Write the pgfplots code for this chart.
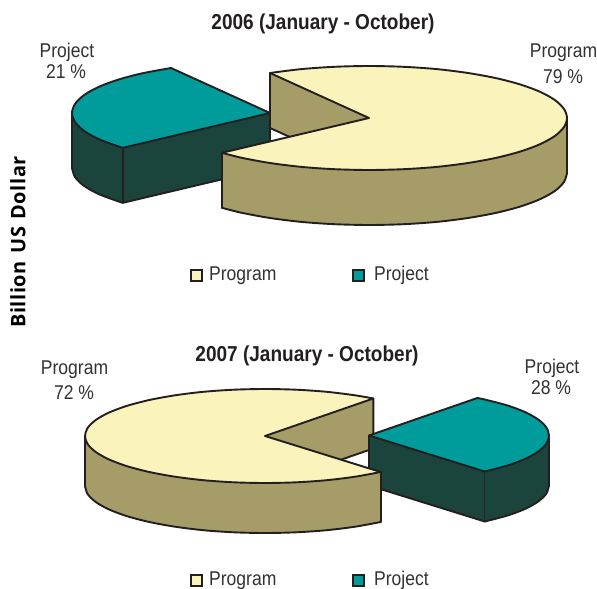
\documentclass[border=0pt]{standalone}
\usepackage{fontspec}
\usepackage{pgfplots}
\pgfplotsset{compat=1.18}
\setmainfont{Liberation Sans}[FakeStretch=0.88]
\newfontfamily\ylabfont{Open Sans}[LetterSpace=3,WordSpace=1.3]
\definecolor{cream}{HTML}{FAF3BC}
\definecolor{olive}{HTML}{A69C67}
\definecolor{teal2}{HTML}{009C9C}
\definecolor{dark}{HTML}{1B443C}
\definecolor{edge}{HTML}{231F20}
\definecolor{txt}{HTML}{333132}
\pgfplotsset{
  shape/.style={fill=#1,draw=none},
  edgeline/.style={draw=edge,line width=1.9bp,line cap=round,line join=round},
  arc/.style={edgeline,smooth},
}
\tikzset{
  lab/.style={font=\fontsize{20}{22}\selectfont,text=txt,inner sep=0pt,anchor=center},
  ttl/.style={font=\fontsize{21.7}{23}\selectfont\bfseries,text=edge,inner sep=0pt,anchor=center},
}
\begin{document}
\begin{tikzpicture}
\useasboundingbox (0,0) rectangle (597bp,589bp);
\begin{axis}[
  at={(0,0)},anchor=south west,
  width=597bp,height=589bp,scale only axis,
  xmin=0,xmax=597,ymin=0,ymax=589,y dir=reverse,
  hide axis,clip=false]

% ---- 2006 project slice
\addplot[shape=dark] coordinates {(72,113) (75,122) (83.9,130.8) (98.5,139) (118.3,146.4) (122.9,147.8)
  (122.9,202.8) (118.3,201.4) (98.5,194) (83.9,185.8) (75,177) (72,168)};
\addplot[shape=dark] coordinates {(270,113) (122.9,147.8) (122.9,202.8) (270,168)};
\addplot[arc] coordinates {(72,168) (75,177) (83.9,185.8) (98.5,194) (118.3,201.4) (122.9,202.8)};
\addplot[edgeline] coordinates {(72,113) (72,168)};
\addplot[edgeline] coordinates {(122.9,147.8) (122.9,202.8) (270,168) (270,113)};
\addplot[shape=teal2] coordinates {(270,113) (171,68) (142.7,73.2) (118.3,79.6) (98.5,87) (83.9,95.2) (75,104)
  (72,113) (75,122) (83.9,130.8) (98.5,139) (118.3,146.4) (122.9,147.8)};
\addplot[arc] coordinates {(171,68) (142.7,73.2) (118.3,79.6) (98.5,87) (83.9,95.2) (75,104)
  (72,113) (75,122) (83.9,130.8) (98.5,139) (118.3,146.4) (122.9,147.8)};
\addplot[edgeline] coordinates {(122.9,147.8) (270,113) (171,68)};

% ---- 2006 program slice
\addplot[shape=olive] coordinates {(270,73) (369,118) (369,173) (270,128)};
\addplot[edgeline] coordinates {(270,73) (270,128) (369,173)};
\addplot[shape=olive] coordinates {(221.9,152.8) (241.7,157.8) (270,163) (301.3,166.9) (334.6,169.2) (369,170)
  (403.4,169.2) (436.7,166.9) (468,163) (496.3,157.8) (520.7,151.4) (540.5,144) (555.1,135.8) (564,127) (567,118)
  (567,173) (564,182) (555.1,190.8) (540.5,199) (520.7,206.4) (496.3,212.8) (468,218) (436.7,221.9) (403.4,224.2)
  (369,225) (334.6,224.2) (301.3,221.9) (270,218) (241.7,212.8) (221.9,207.8)};
\addplot[arc] coordinates {(567,173) (564,182) (555.1,190.8) (540.5,199) (520.7,206.4) (496.3,212.8) (468,218)
  (436.7,221.9) (403.4,224.2) (369,225) (334.6,224.2) (301.3,221.9) (270,218) (241.7,212.8) (221.9,207.8)};
\addplot[edgeline] coordinates {(221.9,152.8) (221.9,207.8)};
\addplot[edgeline] coordinates {(567,118) (567,173)};
\addplot[shape=cream] coordinates {(369,118) (221.9,152.8) (241.7,157.8) (270,163) (301.3,166.9) (334.6,169.2) (369,170)
  (403.4,169.2) (436.7,166.9) (468,163) (496.3,157.8) (520.7,151.4) (540.5,144) (555.1,135.8) (564,127) (567,118)
  (564,109) (555.1,100.2) (540.5,92) (520.7,84.6) (496.3,78.2) (468,73) (436.7,69.1) (403.4,66.8) (369,66)
  (334.6,66.8) (301.3,69.1) (270,73)};
\addplot[arc] coordinates {(221.9,152.8) (241.7,157.8) (270,163) (301.3,166.9) (334.6,169.2) (369,170)
  (403.4,169.2) (436.7,166.9) (468,163) (496.3,157.8) (520.7,151.4) (540.5,144) (555.1,135.8) (564,127) (567,118)
  (564,109) (555.1,100.2) (540.5,92) (520.7,84.6) (496.3,78.2) (468,73) (436.7,69.1) (403.4,66.8) (369,66)
  (334.6,66.8) (301.3,69.1) (270,73)};
\addplot[edgeline] coordinates {(270,73) (369,118) (221.9,152.8)};

% ---- 2007 program slice, inner wall (lies behind the project slice)
\addplot[shape=olive] coordinates {(373.3,398.5) (265,436) (265,486) (373.3,448.5)};
\addplot[edgeline] coordinates {(373.3,398.5) (373.3,448.5) (265,486)};

% ---- 2007 project slice
\addplot[shape=dark] coordinates {(369,435.5) (484.7,471.5) (484.7,521.5) (369,485.5)};
\addplot[edgeline] coordinates {(369,435.5) (369,485.5) (484.7,521.5) (484.7,471.5)};
\addplot[shape=dark] coordinates {(484.7,471.5) (506.9,465.7) (524.9,459) (538.1,451.6) (546.3,443.7) (549,435.5)
  (549,485.5) (546.3,493.7) (538.1,501.6) (524.9,509) (506.9,515.7) (484.7,521.5)};
\addplot[arc] coordinates {(549,485.5) (546.3,493.7) (538.1,501.6) (524.9,509) (506.9,515.7) (484.7,521.5)};
\addplot[edgeline] coordinates {(549,435.5) (549,485.5)};
\addplot[shape=teal2] coordinates {(369,435.5) (477.3,398) (484.7,399.5) (506.9,405.3) (524.9,412) (538.1,419.4) (546.3,427.3)
  (549,435.5) (546.3,443.7) (538.1,451.6) (524.9,459) (506.9,465.7) (484.7,471.5)};
\addplot[arc] coordinates {(477.3,398) (484.7,399.5) (506.9,405.3) (524.9,412) (538.1,419.4) (546.3,427.3)
  (549,435.5) (546.3,443.7) (538.1,451.6) (524.9,459) (506.9,465.7) (484.7,471.5)};
\addplot[edgeline] coordinates {(484.7,471.5) (369,435.5) (477.3,398)};

% ---- 2007 program slice
\addplot[shape=olive] coordinates {(380.7,472) (355,476.7) (326.6,480.2) (296.3,482.3) (265,483) (233.7,482.3) (203.4,480.2)
  (175,476.7) (149.3,472) (127.1,466.2) (109.1,459.5) (95.9,452.1) (87.7,444.2) (85,436)
  (85,486) (87.7,494.2) (95.9,502.1) (109.1,509.5) (127.1,516.2) (149.3,522) (175,526.7) (203.4,530.2) (233.7,532.3)
  (265,533) (296.3,532.3) (326.6,530.2) (355,526.7) (380.7,522)};
\addplot[arc] coordinates {(85,486) (87.7,494.2) (95.9,502.1) (109.1,509.5) (127.1,516.2) (149.3,522) (175,526.7)
  (203.4,530.2) (233.7,532.3) (265,533) (296.3,532.3) (326.6,530.2) (355,526.7) (380.7,522)};
\addplot[edgeline] coordinates {(85,436) (85,486)};
\addplot[edgeline] coordinates {(380.7,472) (380.7,522)};
\addplot[shape=cream] coordinates {(265,436) (380.7,472) (355,476.7) (326.6,480.2) (296.3,482.3) (265,483) (233.7,482.3) (203.4,480.2)
  (175,476.7) (149.3,472) (127.1,466.2) (109.1,459.5) (95.9,452.1) (87.7,444.2) (85,436)
  (87.7,427.8) (95.9,419.9) (109.1,412.5) (127.1,405.8) (149.3,400) (175,395.3) (203.4,391.8) (233.7,389.7)
  (265,389) (296.3,389.7) (326.6,391.8) (355,395.3) (373.3,398.5)};
\addplot[arc] coordinates {(380.7,472) (355,476.7) (326.6,480.2) (296.3,482.3) (265,483) (233.7,482.3) (203.4,480.2)
  (175,476.7) (149.3,472) (127.1,466.2) (109.1,459.5) (95.9,452.1) (87.7,444.2) (85,436)
  (87.7,427.8) (95.9,419.9) (109.1,412.5) (127.1,405.8) (149.3,400) (175,395.3) (203.4,391.8) (233.7,389.7)
  (265,389) (296.3,389.7) (326.6,391.8) (355,395.3) (373.3,398.5)};
\addplot[edgeline] coordinates {(373.3,398.5) (265,436) (380.7,472)};

% ---- legend keys
\addplot[only marks,mark=square*,mark size=5.5bp,mark options={fill=cream,draw=edge,line width=2bp}]
  coordinates {(196,275) (196,580)};
\addplot[only marks,mark=square*,mark size=5.5bp,mark options={fill=teal2,draw=edge,line width=2bp}]
  coordinates {(358,275) (358,580)};

% ---- text
\node[ttl] at (axis cs:323,24) {2006 (January - October)};
\node[ttl] at (axis cs:307,356) {2007 (January - October)};
\node[lab] at (axis cs:67,52) {Project};
\node[lab] at (axis cs:66,72) {21 \%};
\node[lab] at (axis cs:563.5,53) {Program};
\node[lab] at (axis cs:563,77) {79 \%};
\node[lab] at (axis cs:74.5,370) {Program};
\node[lab] at (axis cs:74,393) {72 \%};
\node[lab] at (axis cs:552,368) {Project};
\node[lab] at (axis cs:551,388) {28 \%};
\node[lab,anchor=west] at (axis cs:209,275.5) {Program};
\node[lab,anchor=west] at (axis cs:374,275.5) {Project};
\node[lab,anchor=west] at (axis cs:209,580.5) {Program};
\node[lab,anchor=west] at (axis cs:374,580.5) {Project};
\node[rotate=90,inner sep=0pt,text=black,font=\ylabfont\fontsize{20}{22}\selectfont\bfseries] at (axis cs:18,242) {Billion US Dollar};
\end{axis}
\end{tikzpicture}
\end{document}
